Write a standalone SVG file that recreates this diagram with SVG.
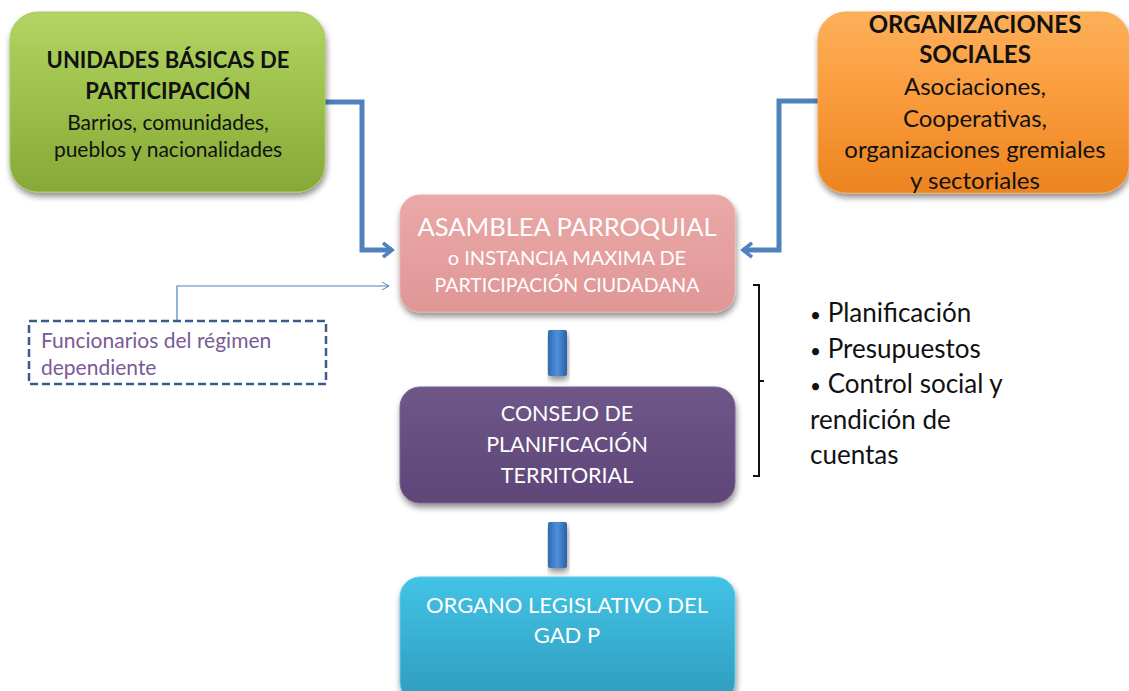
<svg xmlns="http://www.w3.org/2000/svg" width="1129" height="691" viewBox="0 0 1129 691">
<defs>
<style>
.t{font-family:Lato,"Open Sans","Liberation Sans",sans-serif;text-anchor:middle}
.b{font-weight:bold}
.dk{fill:#111}
.wh{fill:#fff}
.box{filter:url(#sh)}
.conn{fill:none;stroke:#4f81bd;stroke-width:5}
.bul{font-size:19px}
</style>
<filter id="sh" x="-10%" y="-10%" width="125%" height="130%">
<feGaussianBlur in="SourceAlpha" stdDeviation="3"/>
<feOffset dx="1" dy="4" result="o"/>
<feComponentTransfer><feFuncA type="linear" slope="0.45"/></feComponentTransfer>
<feMerge><feMergeNode/><feMergeNode in="SourceGraphic"/></feMerge>
</filter>
<linearGradient id="gG" x1="0" y1="0" x2="0" y2="1"><stop offset="0" stop-color="#b2d464"/><stop offset="0.5" stop-color="#9cc049"/><stop offset="1" stop-color="#86a838"/></linearGradient>
<linearGradient id="gO" x1="0" y1="0" x2="0" y2="1"><stop offset="0" stop-color="#fdb05a"/><stop offset="0.5" stop-color="#f99a3a"/><stop offset="1" stop-color="#ec8420"/></linearGradient>
<linearGradient id="gP" x1="0" y1="0" x2="0" y2="1"><stop offset="0" stop-color="#eaa8a7"/><stop offset="1" stop-color="#df9796"/></linearGradient>
<linearGradient id="gV" x1="0" y1="0" x2="0" y2="1"><stop offset="0" stop-color="#6e5689"/><stop offset="1" stop-color="#5e4778"/></linearGradient>
<linearGradient id="gC" x1="0" y1="0" x2="0" y2="1"><stop offset="0" stop-color="#42c3e6"/><stop offset="1" stop-color="#2f9cbd"/></linearGradient>
<linearGradient id="gB" x1="0" y1="0" x2="1" y2="0"><stop offset="0" stop-color="#2f6cb4"/><stop offset="0.5" stop-color="#4f8fda"/><stop offset="1" stop-color="#2a62a6"/></linearGradient>
<marker id="ah" viewBox="0 0 10 10" refX="6" refY="5" markerWidth="3.6" markerHeight="3.6" orient="auto" markerUnits="strokeWidth">
<path d="M1,1 L6,5 L1,9" fill="none" stroke="#4f81bd" stroke-width="2"/>
</marker>
<marker id="ahs" viewBox="0 0 10 10" refX="9" refY="5" markerWidth="10" markerHeight="10" orient="auto" markerUnits="userSpaceOnUse">
<path d="M2,1 L9,5 L2,9" fill="none" stroke="#4f81bd" stroke-width="1"/>
</marker>
</defs>

<g id="connectors">
<path class="conn" d="M325,102 H362 V250 H392" marker-end="url(#ah)"/>
<path class="conn" d="M818,101 H779 V250 H743" marker-end="url(#ah)"/>
<path d="M177,321 V286 H389" fill="none" stroke="#4f81bd" stroke-width="1.2" marker-end="url(#ahs)"/>
<rect x="548" y="330" width="19" height="46" rx="2" fill="url(#gB)" class="box"/>
<rect x="548" y="522" width="19" height="46" rx="2" fill="url(#gB)" class="box"/>
</g>

<g id="unidades">
<rect class="box" x="10" y="12" width="315" height="180" rx="28" fill="url(#gG)" stroke="#a8c860" stroke-width="1"/>
<text class="t b dk" x="168" y="68" font-size="22">UNIDADES BÁSICAS DE</text>
<text class="t b dk" x="168" y="99" font-size="22">PARTICIPACIÓN</text>
<text class="t dk" x="168" y="130" font-size="21">Barrios, comunidades,</text>
<text class="t dk" x="168" y="157" font-size="21">pueblos y nacionalidades</text>
</g>

<g id="organizaciones">
<rect class="box" x="818" y="12" width="311" height="181" rx="28" fill="url(#gO)" stroke="#f7a850" stroke-width="1"/>
<text class="t b dk" x="975" y="33" font-size="24">ORGANIZACIONES</text>
<text class="t b dk" x="975" y="63" font-size="24">SOCIALES</text>
<text class="t dk" x="975" y="95" font-size="24">Asociaciones,</text>
<text class="t dk" x="975" y="127" font-size="24">Cooperativas,</text>
<text class="t dk" x="975" y="158" font-size="24">organizaciones gremiales</text>
<text class="t dk" x="975" y="189" font-size="24">y sectoriales</text>
</g>

<g id="asamblea">
<rect class="box" x="400" y="195" width="335" height="117" rx="20" fill="url(#gP)" stroke="#e8b0b0" stroke-width="1"/>
<text class="t wh" x="567" y="236" font-size="25.5">ASAMBLEA PARROQUIAL</text>
<text class="t wh" x="567" y="265" font-size="20">o INSTANCIA MAXIMA DE</text>
<text class="t wh" x="567" y="292" font-size="19.5">PARTICIPACIÓN CIUDADANA</text>
</g>

<g id="funcionarios">
<rect x="29" y="321" width="297" height="63" fill="#fff" stroke="#385d8a" stroke-width="2.5" stroke-dasharray="8,4"/>
<text x="41" y="348" font-size="21" fill="#7a5a96" font-family="Lato,'Open Sans','Liberation Sans',sans-serif">Funcionarios del régimen</text>
<text x="41" y="375" font-size="21" fill="#7a5a96" font-family="Lato,'Open Sans','Liberation Sans',sans-serif">dependiente</text>
</g>

<g id="consejo">
<rect class="box" x="400" y="387" width="335" height="116" rx="20" fill="url(#gV)" stroke="#7a6494" stroke-width="1"/>
<text class="t wh" x="567" y="421" font-size="21.5">CONSEJO DE</text>
<text class="t wh" x="567" y="452" font-size="21.5">PLANIFICACIÓN</text>
<text class="t wh" x="567" y="483" font-size="21.5">TERRITORIAL</text>
</g>

<g id="organo">
<rect class="box" x="400" y="577" width="335" height="125" rx="20" fill="url(#gC)" stroke="#60cce8" stroke-width="1"/>
<text class="t wh" x="567" y="613" font-size="22">ORGANO LEGISLATIVO DEL</text>
<text class="t wh" x="567" y="643" font-size="22">GAD P</text>
</g>

<g id="funciones">
<path d="M753,285 H759 V476 H753 M759,381 H764" fill="none" stroke="#111" stroke-width="2"/>
<g font-family="Lato,'Open Sans','Liberation Sans',sans-serif" font-size="26" fill="#111">
<text x="810" y="322"><tspan class="bul">•</tspan> Planificación</text>
<text x="810" y="358"><tspan class="bul">•</tspan> Presupuestos</text>
<text x="810" y="393"><tspan class="bul">•</tspan> Control social y</text>
<text x="810" y="429">rendición de</text>
<text x="810" y="464">cuentas</text>
</g>
</g>
</svg>
